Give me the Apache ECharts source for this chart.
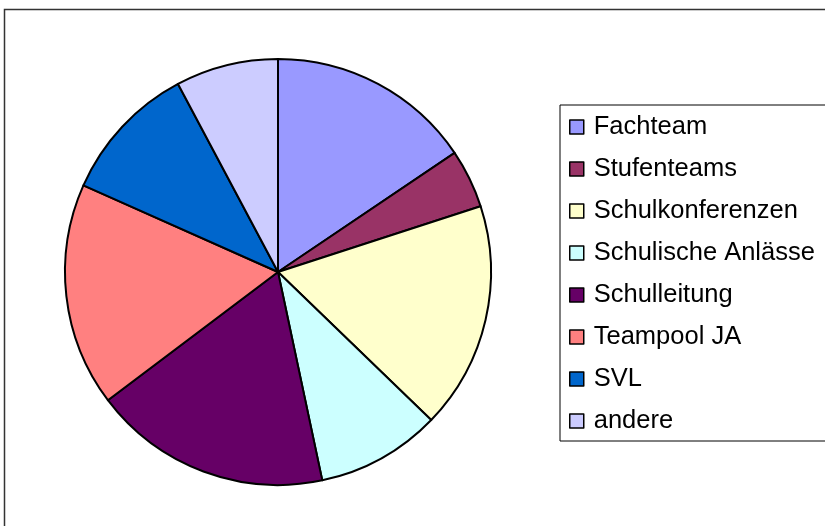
<!DOCTYPE html>
<html>
<head>
<meta charset="utf-8">
<script src="https://cdn.jsdelivr.net/npm/echarts@6/dist/echarts.min.js"></script>
<style>
  html, body { margin: 0; padding: 0; background: #fff; }
  #chart { width: 825px; height: 526px; }
</style>
</head>
<body>
<div id="chart"></div>
<script>
const categories = ['Fachteam', 'Stufenteams', 'Schulkonferenzen', 'Schulische Anlässe',
  'Schulleitung', 'Teampool JA', 'SVL', 'andere'];
const values = [56, 16, 62, 34, 65, 61, 38, 28];
const colors = ['#9999ff', '#993366', '#ffffcc', '#ccffff', '#660066', '#ff8080', '#0066cc', '#ccccff'];

const chart = echarts.init(document.getElementById('chart'));

const option = {
  animation: false,
  color: colors,
  graphic: [
    {
      // outer chart frame, runs off right and bottom edge
      type: 'rect',
      shape: { x: 4.5, y: 9.5, width: 840, height: 540 },
      style: { fill: 'none', stroke: '#333', lineWidth: 1.5 },
      z: -1
    }
  ],
  legend: {
    orient: 'vertical',
    left: 560,
    top: 105,
    padding: [7, 40, 5, 9],
    itemWidth: 14,
    itemHeight: 14,
    itemGap: 12,
    borderColor: '#000',
    borderWidth: 1,
    selectedMode: false,
    icon: 'rect',
    itemStyle: { borderColor: '#000', borderWidth: 1.5 },
    textStyle: {
      color: '#000',
      fontFamily: 'Liberation Sans',
      fontSize: 25.5,
      lineHeight: 30,
      padding: [0, 0, 0, 5]
    },
    data: categories
  },
  series: [
    {
      type: 'pie',
      center: [278, 272],
      radius: 213,
      startAngle: 90,
      clockwise: true,
      label: { show: false },
      labelLine: { show: false },
      emphasis: { disabled: true },
      itemStyle: { borderColor: '#000', borderWidth: 2 },
      data: categories.map((name, i) => ({ name: name, value: values[i] }))
    }
  ]
};

chart.setOption(option);
</script>
</body>
</html>
